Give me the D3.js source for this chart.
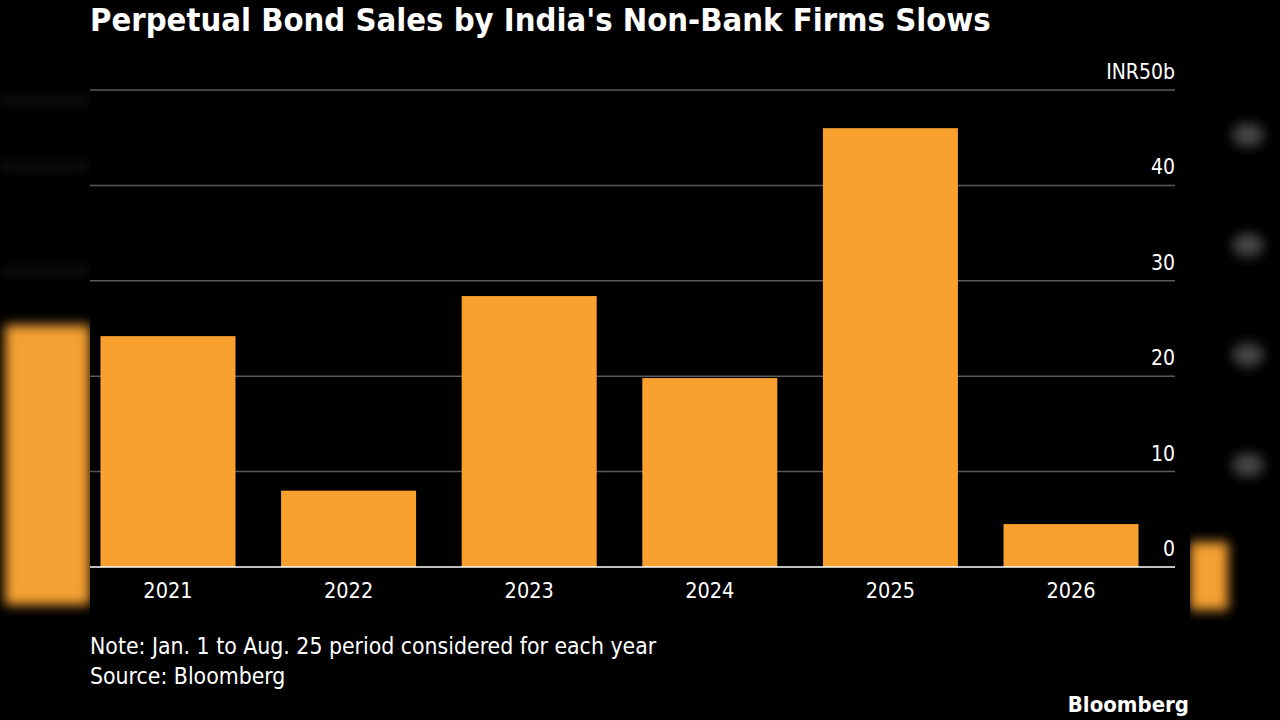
<!DOCTYPE html>
<html><head><meta charset="utf-8">
<script src="https://cdn.jsdelivr.net/npm/d3@7"></script>
<style>body{margin:0;background:#000}svg{display:block}</style></head>
<body><svg id="c" width="1280" height="720"></svg>
<script>
const categories=["2021","2022","2023","2024","2025","2026"];
const values=[24.2,8.0,28.4,19.8,46.0,4.5];
const yTicks=[0,10,20,30,40,50];
const title="Perpetual Bond Sales by India's Non-Bank Firms Slows";
const note="Note: Jan. 1 to Aug. 25 period considered for each year";
const source="Source: Bloomberg";

const svg=d3.select("#c");
const F="DejaVu Sans Condensed, DejaVu Sans, sans-serif";
svg.append("rect").attr("width",1280).attr("height",720).attr("fill","#000");
const defs=svg.append("defs");
defs.append("filter").attr("id","bl").append("feGaussianBlur").attr("stdDeviation",6);
const side=svg.append("g").attr("filter","url(#bl)");
side.append("rect").attr("x",5).attr("y",325).attr("width",85).attr("height",280).attr("fill","#f5a030");
side.append("rect").attr("x",1190).attr("y",542).attr("width",38).attr("height",68).attr("fill","#f5a030");
[100,165,270].forEach(y=>side.append("rect").attr("x",0).attr("y",y).attr("width",90).attr("height",2).attr("fill","#444"));
[135,245,355,465].forEach(y=>side.append("ellipse").attr("cx",1248).attr("cy",y).attr("rx",16).attr("ry",12).attr("fill","#444"));
svg.append("rect").attr("x",90).attr("y",0).attr("width",1100).attr("height",720).attr("fill","#000");

const x=d3.scaleBand().domain(categories).range([90,1149]).paddingInner(0.2525).paddingOuter(0.058);
const y=d3.scaleLinear().domain([0,50]).range([567,90]);

svg.append("g").selectAll("line").data(yTicks.slice(1)).join("line")
 .attr("x1",90).attr("x2",1175).attr("y1",d=>y(d)).attr("y2",d=>y(d)).attr("stroke","#5a5a5a").attr("stroke-width",1.5);
svg.append("g").selectAll("text").data(yTicks).join("text")
 .attr("x",1175).attr("y",d=>y(d)-11).attr("text-anchor","end").attr("fill","#fff")
 .attr("font-family",F).attr("font-size",21).text(d=>d===50?"INR50b":d);

svg.append("g").selectAll("rect").data(values).join("rect")
 .attr("x",(d,i)=>x(categories[i])).attr("width",x.bandwidth())
 .attr("y",d=>y(d)).attr("height",d=>y(0)-y(d)).attr("fill","#f9a12e");
svg.append("line").attr("x1",90).attr("x2",1175).attr("y1",y(0)).attr("y2",y(0)).attr("stroke","#fff").attr("stroke-width",1.5);

const xa=d3.axisBottom(x).tickSize(0).tickPadding(16);
const g=svg.append("g").attr("transform",`translate(0,${y(0)})`).call(xa);
g.select(".domain").remove();
g.selectAll("text").attr("fill","#fff").attr("font-family",F).attr("font-size",21.5);

svg.append("text").attr("x",90).attr("y",31).attr("fill","#fff").attr("font-family",F)
 .attr("font-weight","bold").attr("font-size",32.5).text(title);
svg.append("text").attr("x",90).attr("y",654).attr("fill","#fff").attr("font-family",F).attr("font-size",22.8).text(note);
svg.append("text").attr("x",90).attr("y",684).attr("fill","#fff").attr("font-family",F).attr("font-size",22.8).text(source);
svg.append("text").attr("x",1189).attr("y",712).attr("text-anchor","end").attr("fill","#fff").attr("font-family",F)
 .attr("font-weight","bold").attr("font-size",22).text("Bloomberg");
</script></body></html>
